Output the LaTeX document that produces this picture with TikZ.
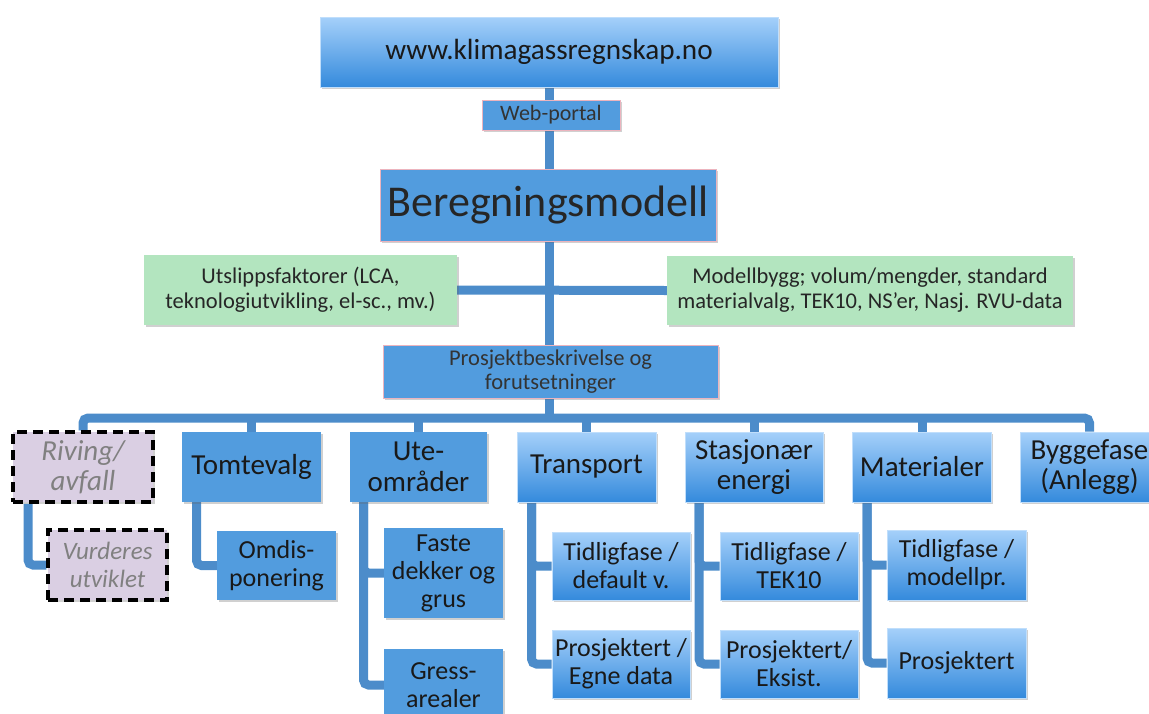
\documentclass[tikz,border=0pt]{standalone}
\usepackage{fontspec}
\setmainfont{Carlito}
\usetikzlibrary{shadows}
\pgfdeclarelayer{bg}
\pgfdeclarelayer{paper}
\pgfsetlayers{paper,bg,main}
\definecolor{conn}{RGB}{76,140,202}
\definecolor{flat}{RGB}{82,156,222}
\definecolor{gtop}{RGB}{165,208,250}
\definecolor{gbot}{RGB}{52,138,220}
\definecolor{greenbox}{RGB}{179,229,191}
\definecolor{lav}{RGB}{218,207,227}
\definecolor{pinkedge}{RGB}{236,180,190}
\definecolor{txt}{RGB}{25,25,25}
\tikzset{
  boxbase/.style={inner sep=0pt, align=center, text=txt,
    drop shadow={shadow xshift=1.5pt, shadow yshift=-2pt, opacity=0.3, fill=black!60}},
  flatbox/.style={boxbase, fill=flat},
  pinkbox/.style={boxbase, fill=flat, draw=pinkedge, line width=1pt},
  gradbox/.style={boxbase, top color=gtop, bottom color=gbot, draw=gtop!70!white, line width=0.6pt},
  greenb/.style={boxbase, fill=greenbox, text=black!85, font=\fontsize{22.5}{25}\selectfont},
  dashbox/.style={boxbase, fill=lav, draw=black, line width=3.5pt, dash pattern=on 10pt off 6pt, text=black!50},
  lvone/.style={minimum width=139pt, minimum height=70pt, font=\fontsize{29}{30.5}\selectfont},
  lvtwo/.style={minimum width=139pt, minimum height=69pt, font=\fontsize{26}{28}\selectfont},
  conline/.style={draw=conn, line width=9pt, rounded corners=5pt},
}
\begin{document}
\begin{tikzpicture}[x=1pt,y=-1pt]
\useasboundingbox (0,0) rectangle (1149,713);
\begin{pgfonlayer}{paper}
\fill[white] (0,0) rectangle (1149,713);
\end{pgfonlayer}
\clip (0,0) rectangle (1149,713);

% top part
\node[gradbox, minimum width=458pt, minimum height=70pt, font=\fontsize{29.2}{33}\selectfont] (top) at (549,52) {www.klimagassregnskap.no};
\node[pinkbox, minimum width=138pt, minimum height=30pt, font=\fontsize{22}{24}\selectfont, text=black!80] (web) at (551,115) {Web-portal};
\node[pinkbox, minimum width=336pt, minimum height=72pt, font=\fontsize{44}{48}\selectfont, text=black!85] (bm) at (548,205) {Beregningsmodell};
\node[greenb, minimum width=313pt, minimum height=70pt] (gl) at (300.5,290) {Utslippsfaktorer (LCA,\\teknologiutvikling, el-sc., mv.)};
\node[greenb, minimum width=406pt, minimum height=69pt] (gr) at (870,290.5) {Modellbygg; volum/mengder, standard\\materialvalg, TEK10, NS’er, Nasj. RVU-data};
\node[pinkbox, minimum width=335pt, minimum height=53pt, font=\fontsize{22.5}{24.5}\selectfont, text=black!80] (pb) at (550.5,371.5) {Prosjektbeskrivelse og\\forutsetninger};

% level one
\node[dashbox, lvone, minimum width=140pt, font=\fontsize{29}{30.5}\selectfont\itshape] (riv) at (83,467) {Riving/\\avfall};
\node[flatbox, lvone] (tom) at (251.5,467) {Tomtevalg};
\node[flatbox, lvone, minimum width=137pt] (ute) at (418.5,467) {Ute-\\områder};
\node[gradbox, lvone] (tra) at (586.5,467) {Transport};
\node[gradbox, lvone, minimum width=138pt] (sta) at (754,467) {Stasjonær\\energi};
\node[gradbox, lvone] (mat) at (922,467) {Materialer};
\node[gradbox, lvone] (byg) at (1089.5,467) {Byggefase\\(Anlegg)};

% level two
\node[dashbox, minimum width=119pt, minimum height=70pt, font=\fontsize{25}{28}\selectfont\itshape] (vur) at (107.5,565) {Vurderes\\utviklet};
\node[flatbox, lvtwo, minimum width=119pt] (omd) at (276.5,565.5) {Omdis-\\ponering};
\node[flatbox, lvtwo, minimum width=119pt, minimum height=90pt] (fas) at (443.5,573) {Faste\\dekker og\\grus};
\node[flatbox, lvtwo, minimum width=119pt, minimum height=72pt] (gre) at (443.5,685) {Gress-\\arealer};
\node[gradbox, lvtwo, minimum width=138pt, minimum height=68pt] (tr1) at (621,566) {Tidligfase /\\default v.};
\node[gradbox, lvtwo, minimum width=138pt, minimum height=68pt] (tr2) at (621,664) {Prosjektert /\\Egne data};
\node[gradbox, lvtwo, minimum width=138pt, minimum height=68pt] (st1) at (789,566) {Tidligfase /\\TEK10};
\node[gradbox, lvtwo, minimum width=138pt, minimum height=68pt] (st2) at (789,664) {Prosjektert/\\Eksist.};
\node[gradbox, lvtwo, minimum height=70pt] (ma1) at (956.5,565) {Tidligfase /\\modellpr.};
\node[gradbox, lvtwo, minimum height=70pt] (ma2) at (956.5,663) {Prosjektert};

\coordinate (bus) at (549,418);

\begin{pgfonlayer}{bg}
\draw[conline] (top.south) -- (top.south |- pb.north);
\draw[conline] (gl.east) -- (gr.west);
\draw[conline] (pb.south -| bus) -- (bus);
\draw[conline] (riv.north) |- (bus) -| (byg.north);
\foreach \n in {tom,ute,tra,sta,mat}
  \draw[conline] (\n.north) -- (\n.north |- bus);
\draw[conline] ([xshift=-55pt]riv.south) |- (vur.west);
\draw[conline] ([xshift=-55pt]tom.south) |- (omd.west);
\draw[conline] ([xshift=-55pt]ute.south) |- (fas.west);
\draw[conline] ([xshift=-55pt]ute.south) |- (gre.west);
\draw[conline] ([xshift=-55pt]tra.south) |- (tr1.west);
\draw[conline] ([xshift=-55pt]tra.south) |- (tr2.west);
\draw[conline] ([xshift=-55pt]sta.south) |- (st1.west);
\draw[conline] ([xshift=-55pt]sta.south) |- (st2.west);
\draw[conline] ([xshift=-55pt]mat.south) |- (ma1.west);
\draw[conline] ([xshift=-55pt]mat.south) |- (ma2.west);
\end{pgfonlayer}
\end{tikzpicture}
\end{document}
